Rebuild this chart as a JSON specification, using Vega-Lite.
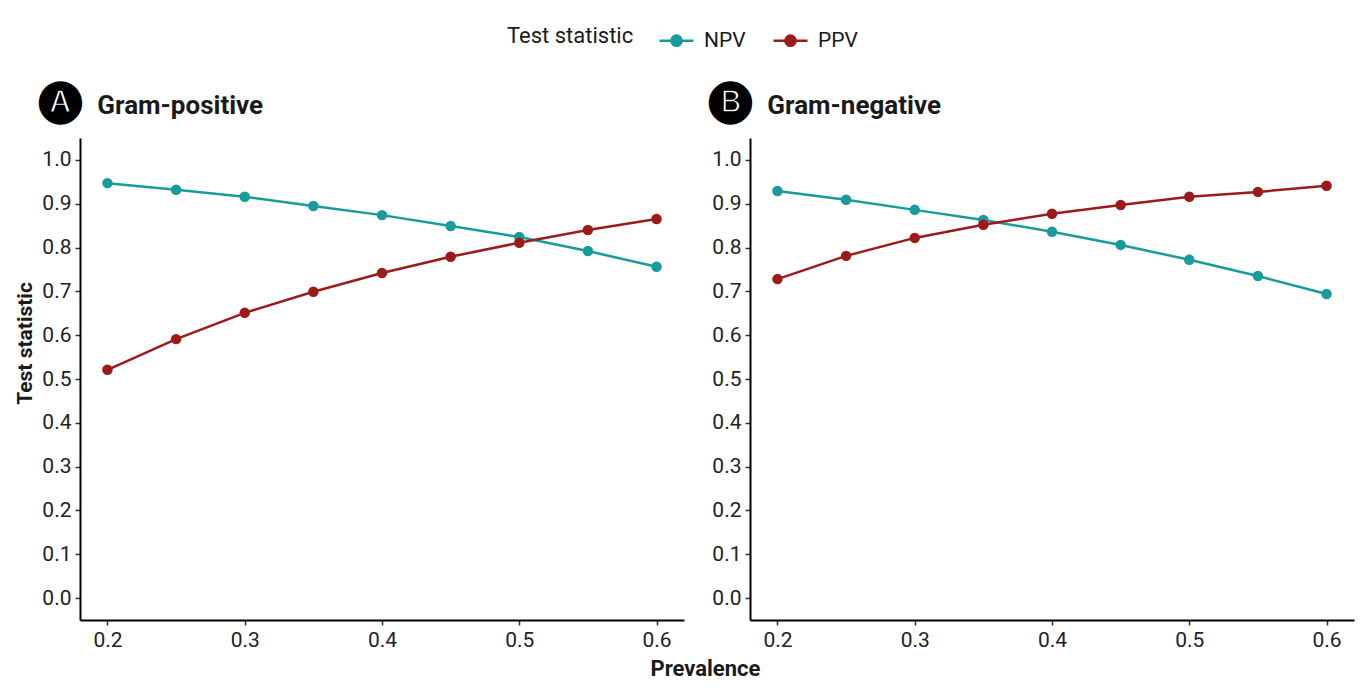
{
  "$schema": "https://vega.github.io/schema/vega-lite/v6.json",
  "background": "white",
  "padding": {"left": 14, "top": 22, "right": 8, "bottom": 8},
  "datasets": {
    "d": [
      {"panel": "A", "stat": "NPV", "p": 0.2, "value": 0.947},
      {"panel": "A", "stat": "NPV", "p": 0.25, "value": 0.932},
      {"panel": "A", "stat": "NPV", "p": 0.3, "value": 0.916},
      {"panel": "A", "stat": "NPV", "p": 0.35, "value": 0.895},
      {"panel": "A", "stat": "NPV", "p": 0.4, "value": 0.874},
      {"panel": "A", "stat": "NPV", "p": 0.45, "value": 0.849},
      {"panel": "A", "stat": "NPV", "p": 0.5, "value": 0.824},
      {"panel": "A", "stat": "NPV", "p": 0.55, "value": 0.792},
      {"panel": "A", "stat": "NPV", "p": 0.6, "value": 0.756},
      {"panel": "A", "stat": "PPV", "p": 0.2, "value": 0.521},
      {"panel": "A", "stat": "PPV", "p": 0.25, "value": 0.591},
      {"panel": "A", "stat": "PPV", "p": 0.3, "value": 0.651},
      {"panel": "A", "stat": "PPV", "p": 0.35, "value": 0.699},
      {"panel": "A", "stat": "PPV", "p": 0.4, "value": 0.742},
      {"panel": "A", "stat": "PPV", "p": 0.45, "value": 0.779},
      {"panel": "A", "stat": "PPV", "p": 0.5, "value": 0.811},
      {"panel": "A", "stat": "PPV", "p": 0.55, "value": 0.840},
      {"panel": "A", "stat": "PPV", "p": 0.6, "value": 0.865},
      {"panel": "B", "stat": "NPV", "p": 0.2, "value": 0.929},
      {"panel": "B", "stat": "NPV", "p": 0.25, "value": 0.909},
      {"panel": "B", "stat": "NPV", "p": 0.3, "value": 0.886},
      {"panel": "B", "stat": "NPV", "p": 0.35, "value": 0.863},
      {"panel": "B", "stat": "NPV", "p": 0.4, "value": 0.836},
      {"panel": "B", "stat": "NPV", "p": 0.45, "value": 0.806},
      {"panel": "B", "stat": "NPV", "p": 0.5, "value": 0.772},
      {"panel": "B", "stat": "NPV", "p": 0.55, "value": 0.735},
      {"panel": "B", "stat": "NPV", "p": 0.6, "value": 0.694},
      {"panel": "B", "stat": "PPV", "p": 0.2, "value": 0.728},
      {"panel": "B", "stat": "PPV", "p": 0.25, "value": 0.781},
      {"panel": "B", "stat": "PPV", "p": 0.3, "value": 0.822},
      {"panel": "B", "stat": "PPV", "p": 0.35, "value": 0.852},
      {"panel": "B", "stat": "PPV", "p": 0.4, "value": 0.877},
      {"panel": "B", "stat": "PPV", "p": 0.45, "value": 0.897},
      {"panel": "B", "stat": "PPV", "p": 0.5, "value": 0.916},
      {"panel": "B", "stat": "PPV", "p": 0.55, "value": 0.927},
      {"panel": "B", "stat": "PPV", "p": 0.6, "value": 0.941}
    ]
  },
  "title": {"text": "Prevalence", "orient": "bottom", "anchor": "middle", "frame": "bounds", "fontSize": 22, "fontWeight": "bold", "color": "#1a1a1a", "offset": 9, "dx": 21},
  "spacing": 25,
  "hconcat": [
    {
      "data": {"name": "d"},
      "transform": [{"filter": "datum.panel == 'A'"}],
      "width": 604,
      "height": 482,
      "title": {"text": "\uD83C\uDD50", "subtitle": "\u200B\u2003\u2003\u2009Gram-positive"},
      "mark": {"type": "line", "strokeWidth": 2.5, "point": {"filled": true, "size": 110, "opacity": 1}},
      "encoding": {
        "x": {"field": "p", "type": "quantitative", "scale": {"domain": [0.18, 0.62], "nice": false, "zero": false}, "axis": {"values": [0.2, 0.3, 0.4, 0.5, 0.6], "format": ".1f", "title": null}},
        "y": {"field": "value", "type": "quantitative", "scale": {"domain": [-0.05, 1.05], "nice": false}, "axis": {"values": [0, 0.1, 0.2, 0.3, 0.4, 0.5, 0.6, 0.7, 0.8, 0.9, 1.0], "format": ".1f", "title": "Test statistic", "titleY": 205}},
        "color": {"field": "stat", "type": "nominal", "scale": {"domain": ["NPV", "PPV"], "range": ["#1a9b9b", "#9b1b1b"]}, "legend": {
          "title": "Test statistic", "orient": "none", "direction": "horizontal", "legendX": 427, "legendY": -116, "titleOrient": "left",
          "titleFontSize": 22, "titleFontWeight": "normal", "titleColor": "#1a1a1a", "labelFontSize": 21, "labelColor": "#1a1a1a", "titlePadding": 24,
          "symbolType": "M-1,0H1M-0.3,0A0.3,0.3 0 1,1 0.3,0A0.3,0.3 0 1,1 -0.3,0Z", "symbolSize": 1156, "symbolStrokeWidth": 2.5, "labelOffset": 9, "columnPadding": 22,
          "encode": {"symbols": {"update": {"fill": {"scale": "color", "field": "value"}, "opacity": {"value": 1}}}}
        }}
      }
    },
    {
      "data": {"name": "d"},
      "transform": [{"filter": "datum.panel == 'B'"}],
      "width": 604,
      "height": 482,
      "title": {"text": "\uD83C\uDD51", "subtitle": "\u200B\u2003\u2003\u2009Gram-negative"},
      "mark": {"type": "line", "strokeWidth": 2.5, "point": {"filled": true, "size": 110, "opacity": 1}},
      "encoding": {
        "x": {"field": "p", "type": "quantitative", "scale": {"domain": [0.18, 0.62], "nice": false, "zero": false}, "axis": {"values": [0.2, 0.3, 0.4, 0.5, 0.6], "format": ".1f", "title": null}},
        "y": {"field": "value", "type": "quantitative", "scale": {"domain": [-0.05, 1.05], "nice": false}, "axis": {"values": [0, 0.1, 0.2, 0.3, 0.4, 0.5, 0.6, 0.7, 0.8, 0.9, 1.0], "format": ".1f", "title": null}},
        "color": {"field": "stat", "type": "nominal", "scale": {"domain": ["NPV", "PPV"], "range": ["#1a9b9b", "#9b1b1b"]}}
      }
    }
  ],
  "config": {
    "font": "Roboto",
    "view": {"stroke": null},
    "title": {"anchor": "start", "frame": "group", "fontSize": 42, "fontWeight": "bold", "color": "black", "dx": -41, "offset": 17,
      "subtitleFontSize": 26, "subtitleFontWeight": "bold", "subtitleColor": "#1a1a1a", "subtitlePadding": -28, "subtitleFont": "Roboto"},
    "axis": {"grid": false, "domainColor": "black", "domainWidth": 2, "tickColor": "#333", "tickWidth": 1.5, "tickSize": 5, "labelFontSize": 21, "labelColor": "#222", "labelPadding": 4, "titleFontSize": 21, "titleFontWeight": "bold", "titleColor": "#1a1a1a", "titlePadding": 6}
  }
}
